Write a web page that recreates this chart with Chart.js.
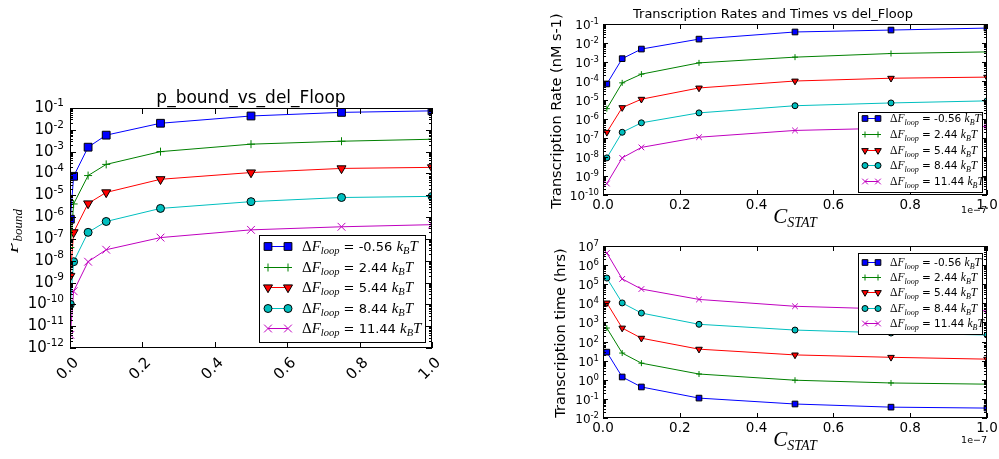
<!DOCTYPE html>
<html>
<head>
<meta charset="utf-8">
<script src="https://cdn.jsdelivr.net/npm/chart.js"></script>
<style>
  html, body { margin: 0; padding: 0; background: #fff; }
  #wrap { position: relative; width: 999px; height: 459px; overflow: hidden; }
  canvas { position: absolute; left: 0; top: 0; }
</style>
</head>
<body>
<div id="wrap">
  <canvas id="pbound" width="999" height="459"></canvas>
  <canvas id="rate" width="999" height="459"></canvas>
  <canvas id="time" width="999" height="459"></canvas>
</div>
<script>
// ---- data ----
const deltaF = ['-0.56', '2.44', '5.44', '8.44', '11.44'];
const concLeft = [0.001, 0.01, 0.05, 0.1, 0.25, 0.5, 0.75, 1.0];
const concStat = [0.01, 0.05, 0.1, 0.25, 0.5, 0.75, 1.0];   // x 1e-7

const pBoundM056 = [8e-7, 7.4e-5, 1.6e-3, 5.7e-3, 2.0e-2, 4.3e-2, 6.3e-2, 7.4e-2];
const pBound244  = [4e-8, 4e-6, 8e-5, 2.6e-4, 1.0e-3, 2.2e-3, 3.0e-3, 3.7e-3];
const pBound544  = [2e-9, 2e-7, 4.2e-6, 1.35e-5, 5.4e-5, 1.1e-4, 1.7e-4, 1.9e-4];
const pBound844  = [1e-10, 9e-9, 2e-7, 6.3e-7, 2.5e-6, 5.1e-6, 7.9e-6, 8.9e-6];
const pBound1144 = [4e-12, 4e-10, 9e-9, 3.2e-8, 1.15e-7, 2.6e-7, 3.6e-7, 4.5e-7];

const rateM056 = [7e-5, 1.5e-3, 4.8e-3, 1.6e-2, 3.8e-2, 4.8e-2, 6.1e-2];
const rate244  = [3.5e-6, 8e-5, 2.3e-4, 9e-4, 1.8e-3, 2.8e-3, 3.4e-3];
const rate544  = [2e-7, 4e-6, 1.1e-5, 4.3e-5, 1e-4, 1.4e-4, 1.6e-4];
const rate844  = [9e-9, 2e-7, 6.3e-7, 2.1e-6, 5e-6, 7e-6, 9e-6];
const rate1144 = [4e-10, 9e-9, 3.2e-8, 1.1e-7, 2.5e-7, 3.3e-7, 4e-7];

const timeM056 = [28, 1.4, 0.42, 0.11, 0.054, 0.037, 0.033];
const time244  = [510, 25, 7.4, 2.0, 0.95, 0.68, 0.59];
const time544  = [1.05e4, 510, 150, 40, 20, 15, 12];
const time844  = [2.1e5, 1.05e4, 3100, 800, 400, 280, 220];
const time1144 = [4.3e6, 1.9e5, 5.6e4, 1.6e4, 7000, 5000, 4000];

const xTicks = [0, 0.2, 0.4, 0.6, 0.8, 1.0];
const xTickLabels = ['0.0', '0.2', '0.4', '0.6', '0.8', '1.0'];

// ---- styling ----
const colors = ['#0000ff', '#008000', '#ff0000', '#00bfbf', '#bf00bf'];
const styles = ['rect', 'cross', 'triangle', 'circle', 'crossRot'];
const rotations = [0, 0, 180, 0, 0];
const edge = ['#000', colors[1], '#000', '#000', colors[4]];
const bigMarks = [5.5, 4, 5.2, 4, 5.5];
const smallMarks = [4, 3, 3.8, 3, 4];

const SANS = '"DejaVu Sans"';
const SERIF = '"Liberation Serif"';

function makeSets(xs, list, radii) {
  return list.map((ys, i) => ({
    label: deltaF[i],
    data: xs.map((x, j) => ({ x: x, y: ys[j] })),
    borderColor: colors[i],
    backgroundColor: colors[i],
    borderWidth: 1,
    pointStyle: styles[i],
    rotation: rotations[i],
    pointRotation: rotations[i],
    pointRadius: radii[i],
    pointBackgroundColor: colors[i],
    pointBorderColor: edge[i],
    pointBorderWidth: 1,
    tension: 0
  }));
}

function runs(ctx, parts, x, y, align) {
  let w = 0;
  parts.forEach(p => { ctx.font = p.f; w += ctx.measureText(p.t).width; });
  let cx = align === 'center' ? x - w / 2 : (align === 'right' ? x - w : x);
  ctx.textAlign = 'left';
  ctx.textBaseline = 'alphabetic';
  parts.forEach(p => {
    ctx.font = p.f;
    ctx.fillText(p.t, cx, y + (p.dy || 0));
    cx += ctx.measureText(p.t).width;
  });
  return w;
}

function legendText(size, sub, num, numSize) {
  return [
    { t: 'Δ', f: size + 'px ' + SERIF },
    { t: 'F', f: 'italic ' + size + 'px ' + SERIF },
    { t: 'loop', f: 'italic ' + sub + 'px ' + SERIF, dy: size * 0.22 },
    { t: ' = ' + num + ' ', f: numSize + 'px ' + SANS },
    { t: 'k', f: 'italic ' + size + 'px ' + SERIF },
    { t: 'B', f: 'italic ' + sub + 'px ' + SERIF, dy: size * 0.22 },
    { t: 'T', f: 'italic ' + size + 'px ' + SERIF }
  ];
}

function deco(cfg) {
  return {
    id: 'deco',
    afterDraw(chart) {
      const ctx = chart.ctx, a = chart.chartArea;
      const sx = chart.scales.x, sy = chart.scales.y;
      ctx.save();
      ctx.fillStyle = '#000';
      ctx.strokeStyle = '#000';
      ctx.lineWidth = 1;

      // ticks (inside, all four sides)
      ctx.beginPath();
      xTicks.forEach(v => {
        const px = Math.round(sx.getPixelForValue(v)) + 0.5;
        ctx.moveTo(px, a.bottom); ctx.lineTo(px, a.bottom - cfg.major);
        ctx.moveTo(px, a.top); ctx.lineTo(px, a.top + cfg.major);
      });
      for (let e = cfg.eMin; e <= cfg.eMax; e++) {
        for (let m = 1; m <= 9; m++) {
          const v = m * Math.pow(10, e);
          if (v > Math.pow(10, cfg.eMax) * 1.0001) continue;
          const py = Math.round(sy.getPixelForValue(v)) + 0.5;
          const len = m === 1 ? cfg.major : cfg.minor;
          ctx.moveTo(a.left, py); ctx.lineTo(a.left + len, py);
          ctx.moveTo(a.right, py); ctx.lineTo(a.right - len, py);
        }
      }
      ctx.stroke();
      ctx.strokeRect(a.left + 0.5, a.top + 0.5, a.right - a.left - 1, a.bottom - a.top - 1);

      // y tick labels 10^e
      for (let e = cfg.eMin; e <= cfg.eMax; e++) {
        const py = sy.getPixelForValue(Math.pow(10, e));
        runs(ctx, [
          { t: '10', f: cfg.yBig + 'px ' + SANS },
          { t: String(e), f: cfg.ySmall + 'px ' + SANS, dy: -cfg.yBig * 0.42 }
        ], a.left - cfg.yPad, py + cfg.yBase, 'right');
      }

      // x tick labels
      ctx.font = cfg.xFont + 'px ' + SANS;
      xTicks.forEach((v, i) => {
        const px = sx.getPixelForValue(v);
        if (cfg.rotX) {
          ctx.save();
          ctx.translate(px - 2, a.bottom + 21);
          ctx.rotate(-Math.PI / 4);
          ctx.textAlign = 'center';
          ctx.textBaseline = 'middle';
          ctx.fillText(xTickLabels[i], 0, 0);
          ctx.restore();
        } else {
          ctx.textAlign = 'center';
          ctx.textBaseline = 'top';
          ctx.fillText(xTickLabels[i], px, a.bottom + 4);
        }
      });

      if (cfg.extra) cfg.extra(ctx, a);

      // legend
      const L = cfg.legend;
      ctx.fillStyle = '#fff';
      ctx.fillRect(L.x1, L.y1, L.x2 - L.x1, L.y2 - L.y1);
      ctx.strokeRect(L.x1 + 0.5, L.y1 + 0.5, L.x2 - L.x1 - 1, L.y2 - L.y1 - 1);
      const dp = Chart.helpers && Chart.helpers.drawPoint;
      chart.data.datasets.forEach((ds, i) => {
        const ry = L.rows[i];
        ctx.strokeStyle = ds.borderColor;
        ctx.beginPath();
        ctx.moveTo(L.m1, ry + 0.5); ctx.lineTo(L.m2, ry + 0.5);
        ctx.stroke();
        [L.m1, L.m2].forEach(mx => {
          ctx.fillStyle = ds.pointBackgroundColor;
          ctx.strokeStyle = ds.pointBorderColor;
          ctx.lineWidth = 1;
          if (dp) dp(ctx, { pointStyle: ds.pointStyle, radius: ds.pointRadius, rotation: ds.pointRotation, borderWidth: 1 }, mx, ry + 0.5);
        });
        ctx.fillStyle = '#000';
        runs(ctx, legendText(L.size, L.sub, deltaF[i], L.num), L.tx, ry + L.base, 'left');
      });
      ctx.restore();
    }
  };
}

function build(id, xs, sets, padding, yMin, yMax, cfg) {
  return new Chart(document.getElementById(id), {
    type: 'line',
    data: { datasets: sets },
    options: {
      responsive: false,
      animation: false,
      devicePixelRatio: 1,
      layout: { padding: padding },
      scales: {
        x: { type: 'linear', min: 0, max: 1, display: false },
        y: { type: 'logarithmic', min: yMin, max: yMax, display: false }
      },
      plugins: { legend: { display: false }, tooltip: { enabled: false } }
    },
    plugins: [deco(cfg)]
  });
}

// left: p_bound
build('pbound', concLeft,
  makeSets(concLeft, [pBoundM056, pBound244, pBound544, pBound844, pBound1144], bigMarks),
  { left: 70, top: 108, right: 567, bottom: 111 }, 1e-12, 1e-1,
  {
    eMin: -12, eMax: -1, major: 6, minor: 3, yBig: 15, ySmall: 10.5, yPad: 6, yBase: 4,
    xFont: 15, rotX: true,
    legend: { x1: 259, y1: 235, x2: 426, y2: 343, rows: [246, 267, 287, 308, 328],
              m1: 268, m2: 288, tx: 302, size: 15, sub: 10.5, num: 13, base: 5 },
    extra(ctx, a) {
      ctx.font = '17px ' + SANS;
      ctx.textAlign = 'center';
      ctx.textBaseline = 'alphabetic';
      ctx.fillText('p_bound_vs_del_Floop', 251, 103);
      // y label sits partly outside the figure, so only its lower part shows
      ctx.save();
      ctx.beginPath(); ctx.rect(11, 0, 60, 459); ctx.clip();
      ctx.translate(18, 231);
      ctx.rotate(-Math.PI / 2);
      runs(ctx, [
        { t: 'P', f: 'italic 19px ' + SERIF },
        { t: 'bound', f: 'italic 13px ' + SERIF, dy: 4 }
      ], 0, 0, 'center');
      ctx.restore();
    }
  });

// right top: rates
build('rate', concStat,
  makeSets(concStat, [rateM056, rate244, rate544, rate844, rate1144], smallMarks),
  { left: 603, top: 24, right: 12, bottom: 264 }, 1e-10, 1e-1,
  {
    eMin: -10, eMax: -1, major: 5, minor: 3, yBig: 12, ySmall: 8.5, yPad: 4, yBase: 5,
    xFont: 13.5, rotX: false,
    legend: { x1: 858, y1: 112, x2: 983, y2: 193, rows: [118, 134, 150, 165, 181],
              m1: 865, m2: 878, tx: 890, size: 11.5, sub: 8, num: 10.5, base: 4 },
    extra(ctx, a) {
      ctx.font = '13px ' + SANS;
      ctx.textAlign = 'center';
      ctx.textBaseline = 'alphabetic';
      ctx.fillText('Transcription Rates and Times vs del_Floop', 773, 18);
      ctx.save();
      ctx.translate(561, 111);
      ctx.rotate(-Math.PI / 2);
      ctx.font = '14.5px ' + SANS;
      ctx.fillText('Transcription Rate (nM s-1)', 0, 0);
      ctx.restore();
      runs(ctx, [
        { t: 'C', f: 'italic 21px ' + SERIF },
        { t: 'STAT', f: 'italic 14px ' + SERIF, dy: 4 }
      ], 795, 223, 'center');
      ctx.font = '9.5px ' + SANS;
      ctx.textAlign = 'right';
      ctx.fillText('1e\u22127', 987, 213);
    }
  });

// right bottom: times
build('time', concStat,
  makeSets(concStat, [timeM056, time244, time544, time844, time1144], smallMarks),
  { left: 603, top: 246, right: 12, bottom: 41 }, 1e-2, 1e7,
  {
    eMin: -2, eMax: 7, major: 5, minor: 3, yBig: 12, ySmall: 8.5, yPad: 4, yBase: 5,
    xFont: 13.5, rotX: false,
    legend: { x1: 858, y1: 253, x2: 983, y2: 335, rows: [262, 277, 292, 308, 323],
              m1: 865, m2: 878, tx: 890, size: 11.5, sub: 8, num: 10.5, base: 4 },
    extra(ctx, a) {
      ctx.save();
      ctx.translate(565, 333);
      ctx.rotate(-Math.PI / 2);
      ctx.font = '14.5px ' + SANS;
      ctx.textAlign = 'center';
      ctx.textBaseline = 'alphabetic';
      ctx.fillText('Transcription time (hrs)', 0, 0);
      ctx.restore();
      runs(ctx, [
        { t: 'C', f: 'italic 21px ' + SERIF },
        { t: 'STAT', f: 'italic 14px ' + SERIF, dy: 4 }
      ], 795, 446, 'center');
      ctx.font = '9.5px ' + SANS;
      ctx.textAlign = 'right';
      ctx.fillText('1e\u22127', 987, 443);
    }
  });
</script>
</body>
</html>
